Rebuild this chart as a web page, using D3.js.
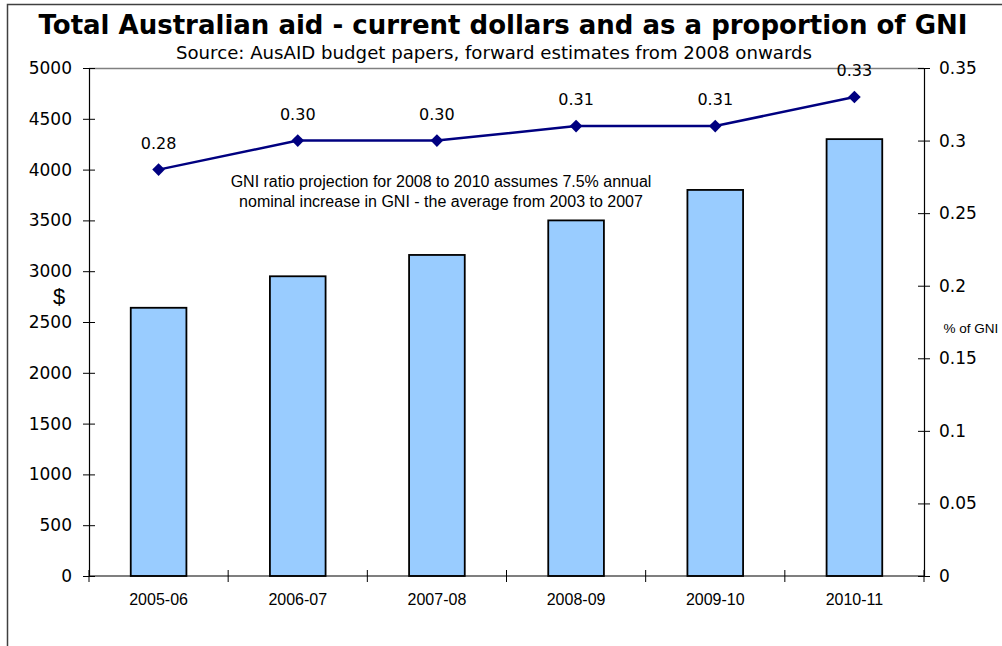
<!DOCTYPE html>
<html><head><meta charset="utf-8">
<script src="https://cdn.jsdelivr.net/npm/d3@7"></script>
<style>html,body{margin:0;padding:0;background:#fff;overflow:hidden}</style>
</head><body>
<svg id="c" width="1002" height="646"></svg>
<script>
const categories = ["2005-06","2006-07","2007-08","2008-09","2009-10","2010-11"];
const aidDollars = [2640, 2950, 3160, 3500, 3800, 4300];
const gniRatio = [0.28, 0.30, 0.30, 0.31, 0.31, 0.33];
const leftTicks = [0,500,1000,1500,2000,2500,3000,3500,4000,4500,5000];
const rightTicks = [0,0.05,0.1,0.15,0.2,0.25,0.3,0.35];

const svg = d3.select("#c");
const m = {l:89, r:924, t:68, b:576};

// outer frame
svg.append("path").attr("d","M7.5,646 V4.5 H1002").attr("fill","none").attr("stroke","#404040").attr("stroke-width",1.5);

const x = d3.scaleBand().domain(categories).range([m.l, m.r]);
const yL = d3.scaleLinear().domain([0,5000]).range([m.b, m.t]);
const yR = d3.scaleLinear().domain([0,0.35]).range([m.b, m.t]);

// plot top border
svg.append("line").attr("x1",m.l).attr("x2",m.r).attr("y1",m.t+0.5).attr("y2",m.t+0.5).attr("stroke","#808080").attr("stroke-width",1.5);

// bars
const bw = x.bandwidth()*0.4;
svg.append("g").selectAll("rect").data(categories).join("rect")
  .attr("x", (d)=>x(d)+x.bandwidth()/2-bw/2)
  .attr("y", (d,i)=>yL(aidDollars[i]))
  .attr("width", bw)
  .attr("height", (d,i)=>yL(0)-yL(aidDollars[i]))
  .attr("fill","#99CCFF").attr("stroke","#000").attr("stroke-width",1.8);

// axes
function styleAxis(g){
  g.select(".domain").attr("stroke","#000").attr("stroke-width",1.2);
  g.selectAll(".tick line").attr("stroke","#000").attr("stroke-width",1);
}
const gl = svg.append("g").attr("transform",`translate(${m.l},0)`)
  .call(d3.axisLeft(yL).tickValues(leftTicks).tickSize(6).tickSizeOuter(0).tickFormat(d3.format("d")));
styleAxis(gl);
gl.selectAll(".tick line").attr("x1",6).attr("x2",-6);
gl.selectAll(".tick text").attr("x",-17).attr("font-family","DejaVu Sans").attr("font-size",17).attr("fill","#000");

const gr = svg.append("g").attr("transform",`translate(${m.r},0)`)
  .call(d3.axisRight(yR).tickValues(rightTicks).tickSize(6).tickSizeOuter(0).tickFormat(d=>String(+d.toFixed(2))));
styleAxis(gr);
gr.selectAll(".tick line").attr("x1",-6).attr("x2",6);
gr.selectAll(".tick text").attr("x",15).attr("font-family","DejaVu Sans").attr("font-size",17).attr("fill","#000");

const gb = svg.append("g").attr("transform",`translate(0,${m.b})`)
  .call(d3.axisBottom(x).tickSize(0).tickSizeOuter(0));
styleAxis(gb);
gb.select(".domain").attr("d",`M${m.l},0H${m.r}`);
gb.selectAll(".tick text").attr("y",18).attr("font-family","Liberation Sans, Arial").attr("font-size",16).attr("fill","#000");
// category boundary ticks
const bounds = categories.map(d=>x(d)).concat([m.r]);
gb.selectAll(".btick").data(bounds).join("line").attr("class","btick")
  .attr("x1",d=>d).attr("x2",d=>d).attr("y1",-6).attr("y2",6).attr("stroke","#000").attr("stroke-width",1);

// line series
const cx = d=>x(d)+x.bandwidth()/2;
const line = d3.line().x((d,i)=>cx(categories[i])).y(d=>yR(d));
svg.append("path").datum(gniRatio).attr("d",line).attr("fill","none").attr("stroke","#000080").attr("stroke-width",2.5);
svg.append("g").selectAll("path").data(gniRatio).join("path")
  .attr("d", d3.symbol(d3.symbolSquare, 80))
  .attr("transform",(d,i)=>`translate(${cx(categories[i])},${yR(d)}) rotate(45)`)
  .attr("fill","#000080");
svg.append("g").selectAll("text").data(gniRatio).join("text")
  .attr("x",(d,i)=>cx(categories[i])).attr("y",d=>yR(d)-21)
  .attr("text-anchor","middle").attr("font-family","DejaVu Sans").attr("font-size",16).attr("fill","#000")
  .text(d=>d.toFixed(2));

// titles
svg.append("text").attr("x",503).attr("y",34).attr("text-anchor","middle")
  .attr("font-family","DejaVu Sans").attr("font-weight","bold").attr("font-size",26).attr("fill","#000")
  .text("Total Australian aid - current dollars and as a proportion of GNI");
svg.append("text").attr("x",494).attr("y",59).attr("text-anchor","middle")
  .attr("font-family","DejaVu Sans").attr("font-size",18).attr("fill","#000")
  .attr("textLength",636).attr("lengthAdjust","spacingAndGlyphs")
  .text("Source: AusAID budget papers, forward estimates from 2008 onwards");

// axis titles
svg.append("text").attr("x",59).attr("y",304).attr("text-anchor","middle")
  .attr("font-family","Liberation Sans, Arial").attr("font-size",22).attr("fill","#000").text("$");
svg.append("text").attr("x",971).attr("y",333).attr("text-anchor","middle")
  .attr("font-family","Liberation Sans, Arial").attr("font-size",13.5).attr("fill","#000").text("% of GNI");

// annotation
const ann = svg.append("text").attr("text-anchor","middle")
  .attr("font-family","Liberation Sans, Arial").attr("font-size",16).attr("fill","#000");
ann.append("tspan").attr("x",441).attr("y",187).text("GNI ratio projection for 2008 to 2010 assumes 7.5% annual");
ann.append("tspan").attr("x",441).attr("y",207).text("nominal increase in GNI - the average from 2003 to 2007");
</script>
</body></html>
